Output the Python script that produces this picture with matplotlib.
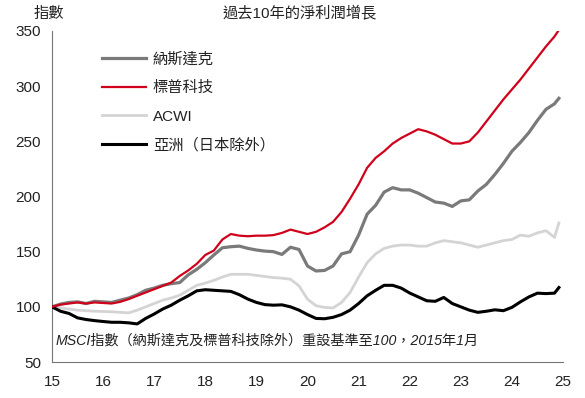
import matplotlib
matplotlib.use("Agg")
import matplotlib.pyplot as plt
from matplotlib import font_manager

years = [15 + k / 6 for k in range(60)] + [24.92]

nasdaq = [100, 102.5, 104, 104.5, 103, 105, 104.5, 104, 106, 108,
          111, 115, 117, 119.5, 121, 122, 129, 134, 140, 147,
          153.5, 154.5, 155, 153, 151.5, 150.5, 150, 147.5, 154, 152,
          137, 132.5, 133, 137, 148, 150, 165, 184, 192, 204,
          208, 206, 206, 203, 199, 195, 194, 191, 196, 197,
          205, 211, 220, 230, 241, 249, 258, 269, 279, 284, 289]

sp_tech = [100, 102, 103, 104, 103, 104, 103.5, 103, 104.5, 107,
           110, 113, 116, 119, 122, 128, 133, 139, 147, 151,
           161, 166, 164.5, 164, 164.5, 164.5, 165, 167, 170, 168,
           166, 168, 172, 177, 186, 198, 211, 226, 235, 241,
           248, 253, 257, 261, 259, 256, 252, 248, 248, 250,
           258, 268, 278, 288, 297, 306, 316, 326, 336, 345, 351]

acwi = [100, 99, 98, 97, 96.5, 96, 95.8, 95.5, 95, 94.5,
        97, 100, 103, 106, 108, 110.5, 115, 119.5, 121.5, 124,
        127, 129.5, 129.5, 129.5, 128.5, 127.5, 126.5, 126, 125, 119,
        107, 101, 99.5, 99, 104, 113, 127, 140, 148, 153,
        155, 156, 156, 155, 155, 158, 160, 159, 158, 156,
        154, 156, 158, 160, 161, 165, 164, 167, 169, 163, 176]

asia_xj = [100, 96, 94, 90, 88.5, 87.5, 86.7, 86, 86, 85.5,
           84.5, 89.5, 93.5, 98, 101.5, 106, 110, 114.5, 115.5, 115,
           114.5, 114, 111, 107, 104, 102, 101.5, 101.8, 100, 97,
           93, 89.5, 89.2, 90.5, 93, 97, 103, 110, 115, 119.5,
           119.5, 117, 112.5, 109, 105.5, 105, 108.5, 103, 100, 97,
           95, 96, 97.3, 96.5, 99.5, 104.5, 109, 112.4, 112, 112.4, 117.5]

labels = ["納斯達克", "標普科技", "ACWI", "亞洲（日本除外）"]
x_ticks = list(range(15, 26))
y_ticks = [50, 100, 150, 200, 250, 300, 350]

avail = {f.name for f in font_manager.fontManager.ttflist}
latin = "Liberation Sans Narrow" if "Liberation Sans Narrow" in avail else "Liberation Sans"
plt.rcParams['font.family'] = [latin, 'Noto Sans CJK TC', 'DejaVu Sans']

fig = plt.figure(figsize=(5.85, 3.98), dpi=100)
ax = fig.add_axes([52 / 585, 1 - 362 / 398, (563 - 52) / 585, (362 - 31) / 398])

ax.plot(years, nasdaq, color="#7a7a7a", lw=2.3, label=labels[0], zorder=3)
ax.plot(years, sp_tech, color="#d0021b", lw=1.6, label=labels[1], zorder=4)
ax.plot(years, acwi, color="#d4d4d4", lw=2.0, label=labels[2], zorder=2)
ax.plot(years, asia_xj, color="#000000", lw=2.2, label=labels[3], zorder=3)

ax.set_xlim(15, 25)
ax.set_ylim(50, 350)
ax.set_xticks(x_ticks)
ax.set_xticklabels([str(t) for t in x_ticks])
ax.set_yticks(y_ticks)
ax.tick_params(length=0, labelsize=11, colors="#222222")
ax.tick_params(axis="x", pad=9)
ax.tick_params(axis="y", pad=8)
for s in ["top", "right"]:
    ax.spines[s].set_visible(False)
for s in ["left", "bottom"]:
    ax.spines[s].set_color("#777777")
    ax.spines[s].set_linewidth(0.8)

leg = ax.legend(loc="upper left", bbox_to_anchor=(0.085, 0.955), frameon=False,
                fontsize=11, handlelength=2.9, handletextpad=0.45,
                labelspacing=0.95, borderaxespad=0)
for t in leg.get_texts():
    t.set_color("#222222")

fig.text(300 / 585, 1 - 13 / 398, "過去10年的淨利潤增長", ha="center", va="center",
         fontsize=11, color="#222222")
fig.text(49 / 585, 1 - 14 / 398, "指數", ha="center", va="center",
         fontsize=11, color="#222222")
ax.text(0.006, 0.065, "MSCI指數（納斯達克及標普科技除外）重設基準至100，2015年1月",
        transform=ax.transAxes, ha="left", va="center", fontsize=10.2,
        style="italic", color="#222222")

fig.savefig("out.png", dpi=100)
